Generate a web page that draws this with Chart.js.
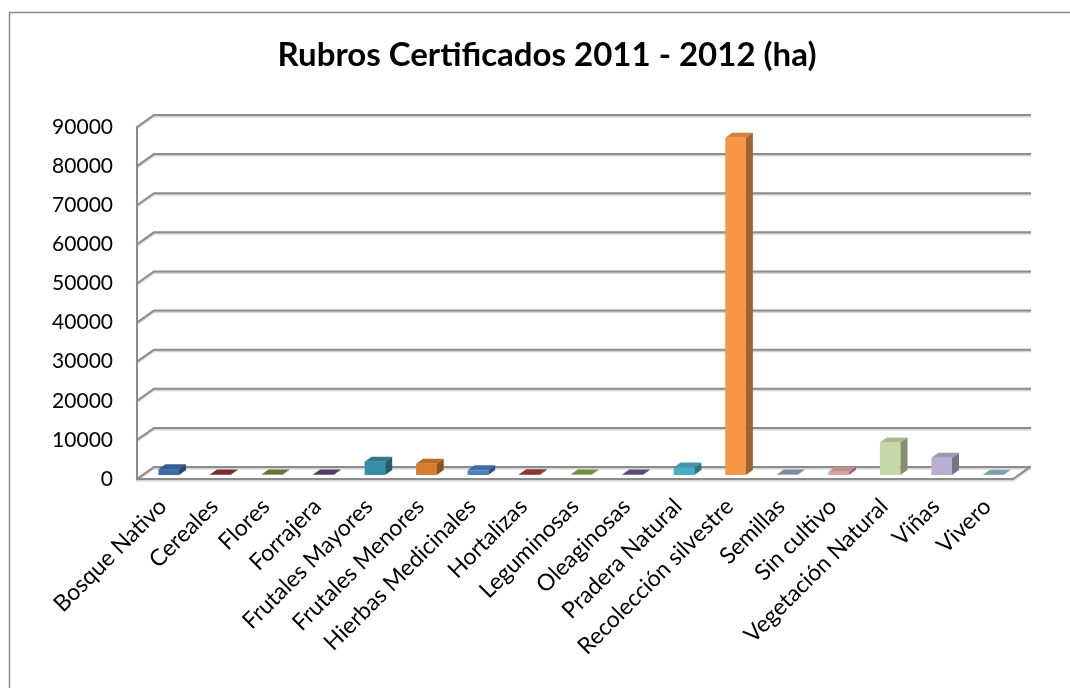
<!DOCTYPE html>
<html>
<head>
<meta charset="utf-8">
<script src="https://cdn.jsdelivr.net/npm/chart.js@4.4.0/dist/chart.umd.min.js"></script>
<style>
html,body{margin:0;padding:0;background:#fff;overflow:hidden;}
#c{display:block;}
</style>
</head>
<body>
<canvas id="c" width="1070" height="688"></canvas>
<script>
const categories = ["Bosque Nativo","Cereales","Flores","Forrajera","Frutales Mayores","Frutales Menores","Hierbas Medicinales","Hortalizas","Leguminosas","Oleaginosas","Pradera Natural","Recolección silvestre","Semillas","Sin cultivo","Vegetación Natural","Viñas","Vivero"];
const values = [1500,150,100,120,3400,2900,1200,200,100,120,1900,86200,100,800,8300,4400,80];
const barColors = ["#3d6ea8","#8e3634","#74893b","#5b4678","#378ea6","#d67d2e","#4a7fc0","#a13e3c","#8aa64c","#6b5590","#4aaec9","#f79646","#94a2bd","#d9a6a4","#c6d8a8","#b9aed1","#8fbac4"];
const yTicks = [0,10000,20000,30000,40000,50000,60000,70000,80000,90000];
const titleText = 'Rubros Certificados 2011 - 2012 (ha)';

const DX = 17, DY = -12;      // back-wall offset
const BX = 6, BY = -4;        // bar depth position
const FX = 7, FY = -5;        // bar depth

function shade(hex, f){
  const n = parseInt(hex.slice(1),16);
  const r = Math.round(((n>>16)&255)*f), g = Math.round(((n>>8)&255)*f), b = Math.round((n&255)*f);
  return `rgb(${r},${g},${b})`;
}

const frame3d = {
  id:'frame3d',
  beforeDraw(chart){
    const ctx = chart.ctx;
    ctx.save();
    ctx.fillStyle = '#fff';
    ctx.fillRect(0,0,chart.width,chart.height);
    ctx.strokeStyle = '#8a8a8a';
    ctx.lineWidth = 1.5;
    ctx.beginPath();
    ctx.moveTo(9.5, 700);
    ctx.lineTo(9.5, 12.5);
    ctx.lineTo(1100, 12.5);
    ctx.stroke();
    ctx.fillStyle = '#000';
    ctx.font = 'bold 33px Lato';
    ctx.textAlign = 'center';
    ctx.textBaseline = 'alphabetic';
    ctx.fillText(titleText, 547, 66);
    ctx.restore();
  },
  beforeDatasetsDraw(chart){
    const ctx = chart.ctx, a = chart.chartArea, y = chart.scales.y;
    ctx.save();
    ctx.lineCap = 'square';
    const drawLines = (col, w, off) => {
      ctx.strokeStyle = col; ctx.lineWidth = w;
      ctx.beginPath();
      yTicks.forEach(v => {
        const py = y.getPixelForValue(v) + off;
        ctx.moveTo(a.left, py);
        ctx.lineTo(a.left+DX, py+DY);
        ctx.lineTo(a.right+DX, py+DY);
      });
      ctx.moveTo(a.left, y.getPixelForValue(90000)+off);
      ctx.lineTo(a.left, y.getPixelForValue(0)+off);
      ctx.lineTo(a.right, y.getPixelForValue(0)+off);
      ctx.lineTo(a.right+DX, y.getPixelForValue(0)+DY+off);
      ctx.stroke();
    };
    drawLines('#d4d4d4', 2, 1.5);
    drawLines('#8c8c8c', 2, 0);
    ctx.restore();
    ctx.save();
    ctx.translate(BX, BY);
  },
  afterDatasetsDraw(chart){
    const ctx = chart.ctx;
    const meta = chart.getDatasetMeta(0);
    meta.data.forEach((bar, i) => {
      const p = bar.getProps(['x','y','base','width'], true);
      const l = p.x - p.width/2, r = p.x + p.width/2, t = p.y, b = p.base;
      ctx.fillStyle = shade(barColors[i], 0.86);
      ctx.beginPath();
      ctx.moveTo(l, t); ctx.lineTo(l+FX, t+FY); ctx.lineTo(r+FX, t+FY); ctx.lineTo(r, t); ctx.closePath();
      ctx.fill();
      ctx.fillStyle = shade(barColors[i], 0.66);
      ctx.beginPath();
      ctx.moveTo(r, t); ctx.lineTo(r+FX, t+FY); ctx.lineTo(r+FX, b+FY); ctx.lineTo(r, b); ctx.closePath();
      ctx.fill();
    });
    ctx.restore();
  }
};

new Chart(document.getElementById('c'), {
  type:'bar',
  data:{
    labels: categories,
    datasets:[{
      data: values,
      backgroundColor: barColors,
      borderWidth: 0,
      barPercentage: 0.4,
      categoryPercentage: 1.0
    }]
  },
  options:{
    responsive:false,
    animation:false,
    devicePixelRatio:1,
    layout:{padding:{left:0,right:57,top:127,bottom:0}},
    plugins:{
      legend:{display:false},
      tooltip:{enabled:false},
      title:{display:false}
    },
    scales:{
      x:{
        grid:{display:false, drawTicks:false},
        border:{display:false},
        ticks:{
          color:'#000', font:{family:'Lato', size:23},
          minRotation:45, maxRotation:45, autoSkip:false, padding:14
        },
        afterFit(s){ s.height = 688 - 479; }
      },
      y:{
        min:0, max:90000,
        grid:{display:false, drawTicks:false},
        border:{display:false},
        afterBuildTicks(s){ s.ticks = yTicks.map(v => ({value:v})); },
        ticks:{
          color:'#000', font:{family:'Lato', size:21}, padding:24,
          callback:(v)=>String(v)
        },
        afterFit(s){ s.width = 137; }
      }
    }
  },
  plugins:[frame3d]
});
</script>
</body>
</html>
